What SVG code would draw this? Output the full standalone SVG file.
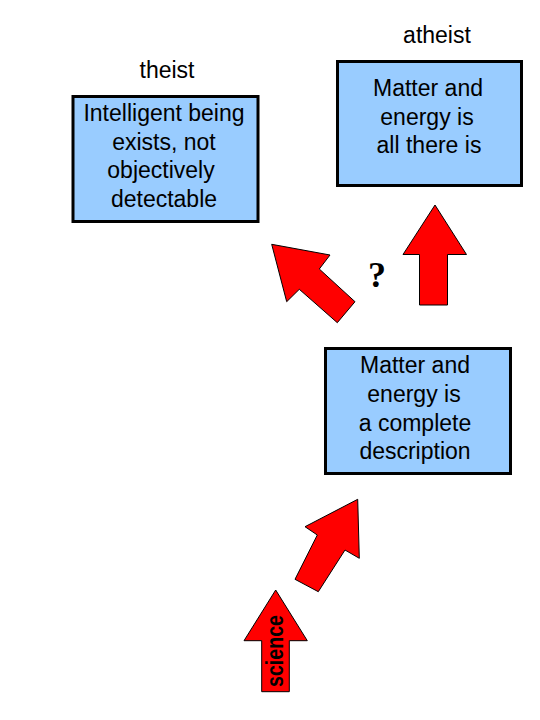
<svg xmlns="http://www.w3.org/2000/svg" width="540" height="720" viewBox="0 0 540 720">
<style>
.box{fill:#99CCFF;stroke:#000;stroke-width:3}
.t{font-family:"Liberation Sans",Arial,sans-serif;font-size:23px;fill:#000;text-anchor:middle}
.arr{fill:#FF0000;stroke:#000;stroke-width:1;stroke-linejoin:miter}
</style>
<rect width="540" height="720" fill="#fff"/>
<g id="theist">
<text class="t" x="167" y="78">theist</text>
<rect class="box" x="73" y="96.5" width="185" height="125"/>
<text class="t" x="164" y="121">Intelligent being</text>
<text class="t" x="164" y="150">exists, not</text>
<text class="t" x="161" y="178">objectively</text>
<text class="t" x="164" y="207">detectable</text>
</g>
<g id="atheist">
<text class="t" x="437" y="43">atheist</text>
<rect class="box" x="337.5" y="61.5" width="184" height="124"/>
<text class="t" x="428" y="96">Matter and</text>
<text class="t" x="427" y="125">energy is</text>
<text class="t" x="429" y="153">all there is</text>
</g>
<g id="complete">
<rect class="box" x="325.5" y="348.5" width="185" height="125"/>
<text class="t" x="415" y="373">Matter and</text>
<text class="t" x="414" y="402">energy is</text>
<text class="t" x="415" y="431">a complete</text>
<text class="t" x="415" y="459">description</text>
</g>
<g id="connectors">
<polygon class="arr" points="435,205 466.5,254.5 447.5,254.5 447.5,305 419.5,305 419.5,254.5 403,254.5"/>
<polygon class="arr" points="271.7,244.3 330,255 319.3,269 355,301.7 337.3,322.7 299.3,289.3 286.7,301.7"/>
<polygon class="arr" points="357.7,499.3 359.3,558.3 345,550 318.3,591.7 295,579.3 317.3,535 305,526.7"/>
<polygon class="arr" points="275.7,590 307.3,640.7 289.3,640.7 289.3,691.7 261.7,691.7 261.7,640.7 244,640.7"/>
<text x="377" y="287" font-family="'Liberation Serif','Times New Roman',serif" font-weight="bold" font-size="36" text-anchor="middle">?</text>
<text transform="translate(282.5,651) rotate(-90)" font-family="'Liberation Sans',Arial,sans-serif" font-weight="bold" font-size="24" text-anchor="middle" textLength="72" lengthAdjust="spacingAndGlyphs">science</text>
</g>
</svg>
